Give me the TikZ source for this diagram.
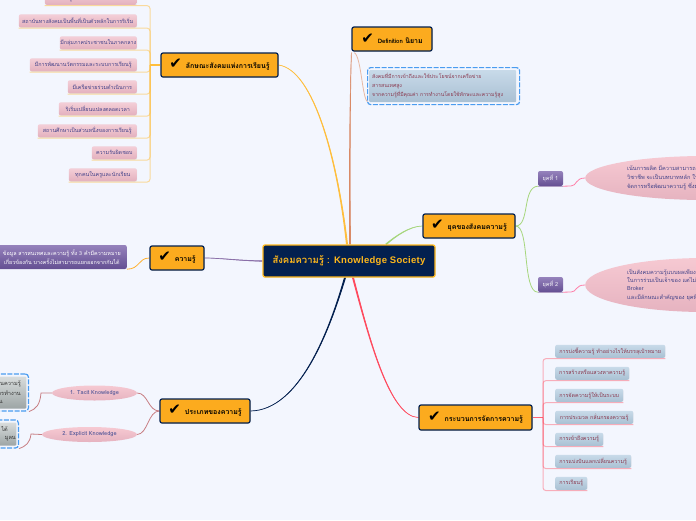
\documentclass[tikz,border=0pt]{standalone}
\usepackage{fontspec}
\setmainfont[Script=Thai]{Loma}
\newfontfamily\chkfont{DejaVu Sans}
\newfontfamily\latfont[LetterSpace=3]{Liberation Sans}
\usetikzlibrary{calc,shadows,shapes.geometric}
\definecolor{pagebg}{HTML}{F3F6FE}
\definecolor{navy}{HTML}{03204F}
\definecolor{orangef}{HTML}{FCAB1E}
\definecolor{goldc}{HTML}{FFB81C}
\definecolor{goldl}{HTML}{FFBE3C}
\definecolor{redl}{HTML}{FF4A5E}
\definecolor{greenl}{HTML}{A6D67C}
\definecolor{purl}{HTML}{8A6FA8}
\definecolor{brownl}{HTML}{D98A66}
\definecolor{rosel}{HTML}{C77D82}
\definecolor{pinkl}{HTML}{FF7FA8}
\definecolor{pinktxt}{HTML}{44448A}
\definecolor{bluetxt}{HTML}{8A3A50}
\definecolor{dashb}{HTML}{4A9CF0}
\definecolor{F6}{HTML}{F4CFD8}\definecolor{F7}{HTML}{E3B0BD}
\definecolor{B1}{HTML}{C8DAE9}\definecolor{B2}{HTML}{A9C0D3}
\definecolor{P1}{HTML}{9582BC}\definecolor{P2}{HTML}{644F92}
\definecolor{E1}{HTML}{F6C9D2}\definecolor{E2}{HTML}{E6B3C0}
\definecolor{G1}{HTML}{D8DCDC}\definecolor{G2}{HTML}{9DA5A5}
\newcommand{\chk}{{\chkfont\fontsize{15}{15}\selectfont ✔}}
\newcommand{\taper}[6]{%
  \fill[#1] (#2) .. controls (#3) and (#4) .. ($(#5)+(#6)$) -- ($(#5)-(#6)$) .. controls ($(#4)-(#6)$) and ($(#3)-(#6)$) .. (#2) -- cycle;
  \draw[#1,line width=.7pt] (#2) .. controls (#3) and (#4) .. (#5);}
\tikzset{
  x=1pt,y=-1pt,
  mainnode/.style={draw=navy,line width=1.2pt,fill=orangef,rounded corners=2pt,inner sep=0pt,minimum height=24pt,text=black,font=\fontsize{7}{8}\selectfont\bfseries,
    drop shadow={shadow xshift=.6pt,shadow yshift=-.6pt,opacity=.25}},
  leafp/.style={rounded corners=2pt,top color=F6,bottom color=F7,inner sep=0pt,minimum height=13pt,anchor=south east,text=pinktxt,font=\fontsize{5.4}{7}\selectfont,
    drop shadow={shadow xshift=.4pt,shadow yshift=-.4pt,opacity=.12}},
  leafb/.style={rounded corners=2pt,top color=B1,bottom color=B2,inner sep=0pt,minimum height=13pt,anchor=south west,text=bluetxt,font=\fontsize{5.4}{7}\selectfont,
    drop shadow={shadow xshift=.4pt,shadow yshift=-.4pt,opacity=.12}},
  eranode/.style={rounded corners=2pt,top color=P1,bottom color=P2,inner sep=0pt,text=white!90!P1,font=\fontsize{5.6}{7}\selectfont},
  ellp/.style={ellipse,top color=E1,bottom color=E2,inner sep=0pt,text=pinktxt},
  ttxt/.style={inner sep=0pt,anchor=west,text=pinktxt,font=\fontsize{5.6}{7}\selectfont},
  goldb/.style={goldl,opacity=.5,line width=1pt,rounded corners=3pt},
  redb/.style={redl,opacity=.42,line width=1pt,rounded corners=3pt},
  dashbox/.style={draw=dashb,dashed,dash pattern=on 5pt off 1.5pt,line width=1.2pt,rounded corners=3pt,fill=pagebg},
}
\pgfdeclarelayer{backl}
\pgfsetlayers{backl,main}
\begin{document}
\begin{tikzpicture}
\useasboundingbox (0,0) rectangle (696,520);
\clip (0,0) rectangle (696,520);
\begin{pgfonlayer}{backl}
\fill[pagebg] (0,0) rectangle (696,520);
\end{pgfonlayer}

% centre
\node[draw=goldc,line width=1.3pt,fill=navy,rounded corners=2pt,minimum width=172pt,minimum height=32pt,inner sep=0pt,text=goldc,font=\fontsize{9.5}{10}\selectfont\bfseries] (c) at (349,261) {สังคมความรู้ : {\latfont Knowledge Society}};

% main topics
\node[mainnode,minimum width=117pt] (trait) at (219.5,65) {\chk\hspace{4pt}ลักษณะสังคมแห่งการเรียนรู้};
\node[mainnode,minimum width=80pt] (defn) at (392,39) {\chk\hspace{4pt}{\fontsize{6}{7}\selectfont Definition} นิยาม};
\node[mainnode,minimum width=92pt] (era) at (469,226) {\chk\hspace{4pt}ยุคของสังคมความรู้};
\node[mainnode,minimum width=113pt,minimum height=25pt] (proc) at (475.5,417.5) {\chk\hspace{4pt}กระบวนการจัดการความรู้};
\node[mainnode,minimum width=90pt] (types) at (205,411) {\chk\hspace{4pt}ประเภทของความรู้};
\node[mainnode,minimum width=54pt] (know) at (177,258) {\chk\hspace{4pt}ความรู้};

% traits list
\coordinate (tt) at (150,65);
\node[leafp,minimum width=85pt] (t0) at (137,5) {มีการเรียนรู้ในสถานการณ์จริงเสมอภาค};
\node[leafp,minimum width=118pt] (t1) at (137,27.5) {สถาบันทางสังคมเป็นพื้นที่เป็นตัวหลักในการริเริ่ม};
\node[leafp,minimum width=77pt] (t2) at (137,49.5) {มีกลุ่มภาคประชาชนในภาคกลาง};
\node[leafp,minimum width=107pt] (t3) at (137,71.5) {มีการพัฒนานวัตกรรมและระบบการเรียนรู้};
\node[leafp,minimum width=69pt] (t4) at (137,93.5) {มีเครือข่ายร่วมดำเนินการ};
\node[leafp,minimum width=78pt] (t5) at (137,115.5) {ริเริ่มเปลี่ยนแปลงตลอดเวลา};
\node[leafp,minimum width=99pt] (t6) at (137,137.5) {สถานศึกษาเป็นส่วนหนึ่งของการเรียนรู้};
\node[leafp,minimum width=45pt] (t7) at (137,159.5) {ความรับผิดชอบ};
\node[leafp,minimum width=68pt] (t8) at (137,181.5) {ทุกคนในครูและนักเรียน};

% process list
\coordinate (pt) at (543,417.5);
\node[leafb,minimum width=110pt] (p1) at (555,358) {การบ่งชี้ความรู้ ทำอย่างไรให้บรรลุเป้าหมาย};
\node[leafb,minimum width=74pt] (p2) at (555,380) {การสร้างหรือแสวงหาความรู้};
\node[leafb,minimum width=68pt] (p3) at (555,402) {การจัดความรู้ให้เป็นระบบ};
\node[leafb,minimum width=78pt] (p4) at (555,424) {การประมวล กลั่นกรองความรู้};
\node[leafb,minimum width=48pt] (p5) at (555,446) {การเข้าถึงความรู้};
\node[leafb,minimum width=76pt] (p6) at (555,468) {การแบ่งปันแลกเปลี่ยนความรู้};
\node[leafb,minimum width=32pt] (p7) at (555,490) {การเรียนรู้};

% definition box
\node[dashbox,minimum width=152pt,minimum height=37pt,anchor=north west] (dbox) at (367,67) {};
\node[rounded corners=1pt,top color=B1,bottom color=B2,minimum width=147pt,minimum height=32pt,inner sep=0pt,anchor=north west] (dinner) at (369,70) {};
\node[ttxt,text=bluetxt,anchor=north west,align=left,font=\fontsize{5.2}{9}\selectfont] (dtxt) at (372,73) {สังคมที่มีการเข้าถึงและใช้ประโยชน์จากเครือข่าย\\สารสนเทศสูง\\จากความรู้ที่มีคุณค่า การทำงานโดยใช้ทักษะและความรู้สูง};

% eras
\node[eranode,minimum width=25pt,minimum height=15pt] (e1) at (550.5,178.5) {ยุคที่ 1};
\node[eranode,minimum width=25pt,minimum height=15pt] (e2) at (550.5,284.5) {ยุคที่ 2};
\node[ellp,minimum width=240pt,minimum height=44pt,anchor=west] (el1) at (585,178) {};
\node[ellp,minimum width=240pt,minimum height=54pt,anchor=west] (el2) at (585,285) {};
\node[ttxt,anchor=west,align=left,font=\fontsize{5.6}{9}\selectfont] (el1t) at (627,178) {เน้นการผลิต มีความสามารถ\\วิชาชีพ จะเป็นบทบาทหลัก ในการ\\จัดการหรือพัฒนาความรู้ ซึ่งมุ่ง};
\node[ttxt,anchor=west,align=left,font=\fontsize{5.6}{8.2}\selectfont] (el2t) at (627,285) {เป็นสังคมความรู้แบบผลเพียง\\ในการร่วมเป็นเจ้าของ แต่ไม่ต้อง\\Broker\\และมีลักษณะสำคัญของ ยุคที่ 1};

% knowledge leaf
\node[rounded corners=2pt,top color=P1,bottom color=P2,minimum width=130pt,minimum height=24pt,inner sep=0pt,anchor=east,text=white,align=center,font=\fontsize{5.4}{9.5}\selectfont] (kleaf) at (127,257) {ข้อมูล สารสนเทศและความรู้ ทั้ง 3 คำมีความหมาย\\เกี่ยวข้องกัน บางครั้งไม่สามารถแยกออกจากกันได้};

% types
\node[ellp,minimum width=85pt,minimum height=15pt,font=\fontsize{5.6}{7}\selectfont\bfseries,text=pinktxt!85!white] (tacit) at (94.5,393) {1. Tacit Knowledge};
\node[ellp,minimum width=95pt,minimum height=15pt,font=\fontsize{5.6}{7}\selectfont\bfseries,text=pinktxt!85!white] (expl) at (89.5,434.5) {2. Explicit Knowledge};
\node[dashbox,minimum width=40pt,minimum height=37pt,anchor=east] (tbox) at (29,392.5) {};
\node[rounded corners=1pt,top color=G1,bottom color=G2,minimum width=40pt,minimum height=32pt,inner sep=0pt,anchor=east] (tin) at (26.5,392.5) {};
\node[dashbox,minimum width=40pt,minimum height=28pt,anchor=east] (ebox) at (19,434) {};
\node[rounded corners=1pt,top color=G1,bottom color=G2,minimum width=40pt,minimum height=23pt,inner sep=0pt,anchor=east] (ein) at (16.5,434) {};
\node[inner sep=0pt,anchor=east,font=\fontsize{5.6}{7}\selectfont,text=black!80] (tl1) at (21,384) {ในความรู้};
\node[inner sep=0pt,anchor=east,font=\fontsize{5.6}{7}\selectfont,text=black!80] (tl2) at (21,393) {การทำงาน};
\node[inner sep=0pt,anchor=east,font=\fontsize{5.6}{7}\selectfont,text=black!80] (tl3) at (3,402) {น};
\node[inner sep=0pt,anchor=east,font=\fontsize{5.6}{7}\selectfont,text=black!80] (el1x) at (8,428.5) {ได้};
\node[inner sep=0pt,anchor=east,font=\fontsize{5.6}{7}\selectfont,text=black!80] (el2x) at (16,438.5) {มูลน};

% connectors
\begin{pgfonlayer}{backl}
\coordinate (cg) at ($(c.north)+(-2,0)$);
\coordinate (cd) at ($(c.north)+(1,0)$);
\coordinate (cr) at ($(c.south)+(4,0)$);
\coordinate (cn) at ($(c.south)+(-4,0)$);
\coordinate (cw) at (c.west);
\coordinate (cv) at ($(c.north)+(37,0)$);
\coordinate (dsw) at ($(defn.south west)+(0,1)$);
\taper{goldl}{trait.east}{314,70}{338,160}{cg}{1,0}
\taper{brownl}{dsw}{350,100}{350,180}{cd}{1,0}
\taper{greenl}{era.west}{410,226}{395,237}{cv}{.6,.6}
\taper{purl}{know.east}{220,258}{240,261}{cw}{0,.6}
\taper{navy}{types.east}{300,410}{330,330}{cn}{1,0}
\taper{redl}{proc.west}{390,417}{370,340}{cr}{1,0}
\end{pgfonlayer}
% traits
\foreach \n in {t0,t1,t2,t3,t4,t5,t6,t7,t8}{
  \draw[goldb] (tt) |- ($(\n.south west)+(0,.6)$);}
\draw[goldl,line width=1.5pt] (trait.west) -- (tt);
% process
\foreach \n in {p1,p2,p3,p4,p5,p6,p7}{
  \draw[redb] (pt) |- ($(\n.south east)+(0,.6)$);}
\draw[redl,opacity=.85,line width=1pt] (proc.east) -- (pt);
\begin{pgfonlayer}{backl}
% definition
\draw[brownl!60,line width=.8pt] ($(defn.south west)+(3,1)$) .. controls (362,58) and (362,104) .. (dinner.south west) -- (dinner.south east);
% eras
\draw[greenl,line width=.8pt] (era.east) .. controls (530,226) and (522,187) .. (e1.south west);
\draw[greenl,line width=.8pt] (era.east) .. controls (530,226) and (522,292) .. (e2.south west);
\draw[purl!60,line width=1pt] (e1.south west) -- (e1.south east);
\draw[purl!60,line width=1pt] (e2.south west) -- (e2.south east);
\draw[pinkl,line width=.8pt] (e1.south east) -- (571,186) .. controls (577,186) and (575,178) .. (el1.west);
\draw[pinkl,line width=.8pt] (e2.south east) -- (571,292) .. controls (577,292) and (575,285) .. (el2.west);
% knowledge
\draw[goldl!80!orange,line width=.8pt] (know.west) .. controls (138,258) and (140,269) .. (kleaf.south east);
% types
\draw[rosel,line width=.8pt] (types.west) .. controls (148,411) and (148,393) .. (tacit.east);
\draw[rosel,line width=.8pt] (types.west) .. controls (148,411) and (148,434) .. (expl.east);
\draw[rosel,line width=.8pt] (tacit.west) -- (41,393) .. controls (40,405) and (36,409) .. (tbox.south east);
\draw[rosel,line width=.8pt] (expl.west) -- (31,434) .. controls (30,443) and (26,446) .. (ebox.south east);
\end{pgfonlayer}
\end{tikzpicture}
\end{document}
